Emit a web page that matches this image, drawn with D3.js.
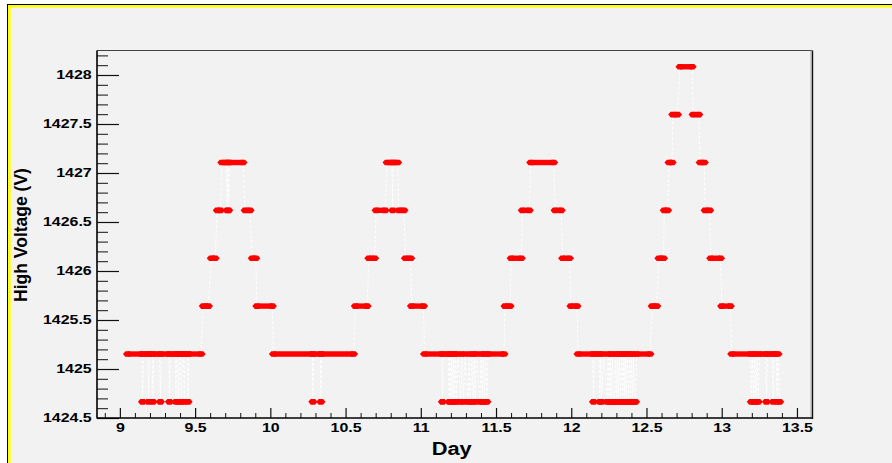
<!DOCTYPE html>
<html><head><meta charset="utf-8">
<script src="https://cdn.jsdelivr.net/npm/d3@7"></script>
<style>
body{margin:0;background:#fff}
svg{display:block}
text{font-family:'Liberation Sans',Arial,Helvetica,sans-serif;font-weight:bold;fill:#000}
</style>
</head><body>
<svg id="c" width="892" height="463"></svg>
<script>
// ---- data (day, high voltage) ----
const days = [
  9.051, 9.146, 9.151, 9.156, 9.186, 9.191, 9.196, 9.215, 9.220, 9.225,
  9.264, 9.269, 9.274, 9.325, 9.330, 9.335, 9.368, 9.373, 9.378, 9.385,
  9.390, 9.396, 9.403, 9.408, 9.414, 9.423, 9.428, 9.434, 9.448, 9.453,
  9.458, 9.540,
  9.555, 9.588, 9.608, 9.633, 9.648, 9.668, 9.678, 9.708, 9.713, 9.718,
  9.723, 9.728, 9.818, 9.833, 9.865, 9.880, 9.903, 9.911, 10.013,
  10.021, 10.279, 10.283, 10.288, 10.332, 10.336, 10.341, 10.553,
  10.565, 10.643, 10.655, 10.693, 10.703, 10.763, 10.776, 10.808, 10.813, 10.818,
  10.846, 10.855, 10.888, 10.898, 10.933, 10.938, 11.018,
  11.025, 11.139, 11.144, 11.149, 11.184, 11.189, 11.194,
  11.200, 11.206, 11.213, 11.219, 11.225, 11.231, 11.237,
  11.248, 11.265, 11.273, 11.285, 11.293,
  11.315, 11.322, 11.329, 11.340, 11.348, 11.355, 11.362, 11.370,
  11.393, 11.400, 11.408, 11.415, 11.423, 11.431, 11.439, 11.447,
  11.553, 11.560, 11.593, 11.601, 11.668, 11.675, 11.721, 11.731, 11.883,
  11.893, 11.933, 11.943, 11.988, 11.998, 12.038,
  12.045, 12.143, 12.148, 12.154, 12.184, 12.190, 12.196, 12.202, 12.215,
  12.238, 12.245, 12.252, 12.259, 12.266, 12.273, 12.280, 12.287,
  12.294, 12.300, 12.307, 12.314, 12.321, 12.328, 12.335, 12.342, 12.348,
  12.352, 12.358, 12.366, 12.372, 12.380, 12.386, 12.394, 12.400, 12.408, 12.414, 12.420, 12.427,
  12.434, 12.523,
  12.538, 12.568, 12.583, 12.613, 12.618, 12.640, 12.650, 12.670, 12.675, 12.706,
  12.723, 12.803, 12.810, 12.847, 12.857, 12.884, 12.890, 12.920, 12.927, 12.992,
  13.000, 13.057,
  13.067, 13.192, 13.197, 13.204, 13.212, 13.219, 13.227, 13.234, 13.242, 13.252,
  13.292, 13.297, 13.304, 13.337, 13.342, 13.349, 13.362, 13.368, 13.374, 13.385
];
const volts = [
  1425.153, 1425.153, 1424.665, 1425.153, 1425.153, 1424.665, 1425.153, 1425.153, 1424.665, 1425.153,
  1425.153, 1424.665, 1425.153, 1425.153, 1424.665, 1425.153, 1425.153, 1424.665, 1425.153, 1425.153,
  1424.665, 1425.153, 1425.153, 1424.665, 1425.153, 1425.153, 1424.665, 1425.153, 1425.153, 1424.665,
  1425.153, 1425.153,
  1425.642, 1425.642, 1426.130, 1426.130, 1426.619, 1426.619, 1427.107, 1427.107, 1426.619, 1427.107,
  1426.619, 1427.107, 1427.107, 1426.619, 1426.619, 1426.130, 1426.130, 1425.642, 1425.642,
  1425.153, 1425.153, 1424.665, 1425.153, 1425.153, 1424.665, 1425.153, 1425.153,
  1425.642, 1425.642, 1426.130, 1426.130, 1426.619, 1426.619, 1427.107, 1427.107, 1426.619, 1427.107,
  1427.107, 1426.619, 1426.619, 1426.130, 1426.130, 1425.642, 1425.642,
  1425.153, 1425.153, 1424.665, 1425.153, 1425.153, 1424.665, 1425.153,
  1424.665, 1425.153, 1424.665, 1425.153, 1424.665, 1425.153, 1424.665,
  1425.153, 1424.665, 1425.153, 1424.665, 1425.153,
  1424.665, 1425.153, 1424.665, 1425.153, 1424.665, 1425.153, 1424.665, 1425.153,
  1424.665, 1425.153, 1424.665, 1425.153, 1424.665, 1425.153, 1424.665, 1425.153,
  1425.153, 1425.642, 1425.642, 1426.130, 1426.130, 1426.619, 1426.619, 1427.107, 1427.107,
  1426.619, 1426.619, 1426.130, 1426.130, 1425.642, 1425.642,
  1425.153, 1425.153, 1424.665, 1425.153, 1425.153, 1424.665, 1425.153, 1424.665, 1425.153,
  1424.665, 1425.153, 1424.665, 1425.153, 1424.665, 1425.153, 1424.665, 1424.665,
  1425.153, 1424.665, 1425.153, 1424.665, 1425.153, 1424.665, 1425.153, 1424.665, 1425.153,
  1424.665, 1425.153, 1424.665, 1425.153, 1424.665, 1425.153, 1424.665, 1425.153, 1424.665, 1425.153, 1424.665, 1424.665,
  1425.153, 1425.153,
  1425.642, 1425.642, 1426.130, 1426.130, 1426.619, 1426.619, 1427.107, 1427.107, 1427.596, 1427.596,
  1428.084, 1428.084, 1427.596, 1427.596, 1427.107, 1427.107, 1426.619, 1426.619, 1426.130, 1426.130,
  1425.642, 1425.642,
  1425.153, 1425.153, 1424.665, 1425.153, 1424.665, 1425.153, 1424.665, 1425.153, 1424.665, 1425.153,
  1425.153, 1424.665, 1425.153, 1425.153, 1424.665, 1425.153, 1425.153, 1424.665, 1425.153, 1424.665
];
const xTicks = [9, 9.5, 10, 10.5, 11, 11.5, 12, 12.5, 13, 13.5];
const xTickLabels = ["9", "9.5", "10", "10.5", "11", "11.5", "12", "12.5", "13", "13.5"];
const yTicks = [1424.5, 1425, 1425.5, 1426, 1426.5, 1427, 1427.5, 1428];
const yTickLabels = ["1424.5", "1425", "1425.5", "1426", "1426.5", "1427", "1427.5", "1428"];
const xTitle = "Day";
const yTitle = "High Voltage (V)";

(function () {
// ---- drawing ----
const svg = d3.select("#c");
const W = 892, H = 463;
const pLeft = 97, pRight = 812, pTop = 50.5, pBottom = 418;

// canvas background and highlighted border
svg.append("rect").attr("x", 7).attr("y", 4).attr("width", W - 7).attr("height", H - 4).attr("fill", "#f2f2f2");
svg.append("line").attr("x1", 7).attr("x2", W).attr("y1", 4.5).attr("y2", 4.5).attr("stroke", "#000").attr("stroke-width", 1);
svg.append("line").attr("x1", 7.5).attr("x2", W).attr("y1", 6.2).attr("y2", 6.2).attr("stroke", "#ffff00").attr("stroke-width", 2.4);
svg.append("line").attr("x1", 7.5).attr("x2", 7.5).attr("y1", 4).attr("y2", H).attr("stroke", "#000").attr("stroke-width", 1);
svg.append("line").attr("x1", 9.4).attr("x2", 9.4).attr("y1", 5).attr("y2", H).attr("stroke", "#ffff00").attr("stroke-width", 2.6);

const x = d3.scaleLinear().domain([8.848, 13.6]).range([pLeft, pRight]);
const y = d3.scaleLinear().domain([1424.5, 1428.25]).range([pBottom, pTop]);

// frame
svg.append("line").attr("x1", pLeft).attr("x2", pRight).attr("y1", pTop).attr("y2", pTop).attr("stroke", "#444").attr("stroke-width", 1.2);
svg.append("line").attr("x1", pRight - 1).attr("x2", pRight - 1).attr("y1", pTop).attr("y2", pBottom).attr("stroke", "#aaa").attr("stroke-width", 1);
svg.append("line").attr("x1", pRight + 0.5).attr("x2", pRight + 0.5).attr("y1", pTop).attr("y2", pBottom + 1).attr("stroke", "#111").attr("stroke-width", 1.4);

// minor ticks
const xMinor = d3.range(89, 137).map(v => v / 10).filter(v => !xTicks.some(t => Math.abs(t - v) < 1e-6));
const yMinor = d3.range(14245, 14283).map(v => v / 10).filter(v => !yTicks.some(t => Math.abs(t - v) < 1e-6));

svg.append("g").attr("transform", `translate(0,${pBottom})`)
  .call(d3.axisBottom(x).tickValues(xMinor).tickSize(-5).tickFormat(""))
  .call(g => g.select(".domain").remove())
  .call(g => g.selectAll("line").attr("stroke", "#111").attr("stroke-width", 1));
svg.append("g").attr("transform", `translate(${pLeft},0)`)
  .call(d3.axisLeft(y).tickValues(yMinor).tickSize(-11).tickFormat(""))
  .call(g => g.select(".domain").remove())
  .call(g => g.selectAll("line").attr("stroke", "#111").attr("stroke-width", 1));

// major ticks + labels
const gx = svg.append("g").attr("transform", `translate(0,${pBottom})`)
  .call(d3.axisBottom(x).tickValues(xTicks).tickSize(-10).tickPadding(5)
    .tickFormat((d, i) => xTickLabels[i]))
  .call(g => g.select(".domain").remove());
gx.selectAll("line").attr("stroke", "#111").attr("stroke-width", 1.2);
gx.selectAll("text").attr("font-size", 12).attr("fill", "#000").attr("transform", "scale(1.33,1)")
  .style("font-family", "'Liberation Sans',Arial,sans-serif").style("font-weight", "bold");

const gy = svg.append("g").attr("transform", `translate(${pLeft},0)`)
  .call(d3.axisLeft(y).tickValues(yTicks).tickSize(-22).tickPadding(4)
    .tickFormat((d, i) => yTickLabels[i]))
  .call(g => g.select(".domain").remove());
gy.selectAll("line").attr("stroke", "#111").attr("stroke-width", 1.2);
gy.selectAll("text").attr("font-size", 12).attr("fill", "#000").attr("transform", "scale(1.33,1)")
  .style("font-family", "'Liberation Sans',Arial,sans-serif").style("font-weight", "bold");

// axis lines
svg.append("line").attr("x1", pLeft).attr("x2", pLeft).attr("y1", pTop).attr("y2", pBottom + 0.5).attr("stroke", "#000").attr("stroke-width", 1.6);
svg.append("line").attr("x1", pLeft).attr("x2", pRight + 1).attr("y1", pBottom).attr("y2", pBottom).attr("stroke", "#000").attr("stroke-width", 1.6);

// titles
svg.append("text").attr("transform", "translate(451.7,455) scale(1.18,1)")
  .attr("text-anchor", "middle").attr("font-size", 18.5).text(xTitle);
svg.append("text").attr("transform", "translate(26.5,235) rotate(-90)")
  .attr("text-anchor", "middle").attr("font-size", 17.5).text(yTitle);

// data
const pts = days.map((d, i) => [d, volts[i]]);
const gData = svg.append("g");
gData.append("path")
  .attr("d", d3.line().x(p => x(p[0])).y(p => y(p[1]))(pts))
  .attr("fill", "none").attr("stroke", "#ffffff").attr("stroke-width", 1)
  .attr("stroke-dasharray", "3,2");

const runs = [];
for (let i = 0; i < pts.length - 1; i++) {
  if (pts[i][1] === pts[i + 1][1]) runs.push([pts[i], pts[i + 1]]);
}
gData.selectAll("line.run").data(runs).join("line").attr("class", "run")
  .attr("x1", r => x(r[0][0])).attr("x2", r => x(r[1][0]))
  .attr("y1", r => y(r[0][1])).attr("y2", r => y(r[1][1]))
  .attr("stroke", "#ff0000").attr("stroke-width", 5.4);

gData.selectAll("path.mk").data(pts).join("path").attr("class", "mk")
  .attr("transform", p => `translate(${x(p[0])},${y(p[1])})`)
  .attr("d", "M-4.6,0L-2.2,-2.8L2.2,-2.8L4.6,0L2.2,2.8L-2.2,2.8Z")
  .attr("fill", "#ff0000");
})();
</script>
</body></html>
